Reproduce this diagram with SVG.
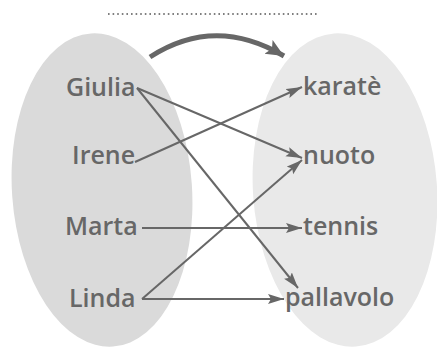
<svg xmlns="http://www.w3.org/2000/svg" width="437" height="351" viewBox="0 0 437 351">
<style>
.lbl{font-family:"Open Sans","Liberation Sans",sans-serif;font-weight:600;font-size:25px;fill:#676767}
.conn{stroke:#676767;stroke-width:2;fill:none}
.curve{stroke:#676767;stroke-width:5;fill:none}
</style>
<defs>
<marker id="ah" markerUnits="userSpaceOnUse" markerWidth="18" markerHeight="12" refX="16" refY="5" orient="auto">
<path d="M0,0 L16,5 L0,10 L3,5 Z" fill="#676767"/>
</marker>
<marker id="ahb" markerUnits="userSpaceOnUse" markerWidth="22" markerHeight="18" refX="18" refY="8" orient="auto">
<path d="M0,0 L18,8 L0,16 L4,8 Z" fill="#676767"/>
</marker>
</defs>
<rect width="437" height="351" fill="#ffffff"/>
<line x1="108" y1="14" x2="318" y2="14" stroke="#555" stroke-width="1.6" stroke-dasharray="1.6 3" />
<g id="set-left">
<ellipse cx="102" cy="190" rx="90" ry="157" transform="rotate(-4 102 190)" fill="#dadada"/>
</g>
<g id="set-right">
<ellipse cx="345" cy="190" rx="92" ry="157" transform="rotate(-4 345 190)" fill="#e9e9e9"/>
</g>
<g id="connectors">
<path class="curve" d="M150,57 Q215,15 284,56" marker-end="url(#ahb)"/>
<line class="conn" x1="137" y1="88" x2="302" y2="158" marker-end="url(#ah)"/>
<line class="conn" x1="137" y1="88" x2="298" y2="288" marker-end="url(#ah)"/>
<line class="conn" x1="135" y1="162" x2="302" y2="87" marker-end="url(#ah)"/>
<line class="conn" x1="142" y1="228" x2="302" y2="228" marker-end="url(#ah)"/>
<line class="conn" x1="142" y1="299" x2="302" y2="160" marker-end="url(#ah)"/>
<line class="conn" x1="142" y1="299" x2="284" y2="299" marker-end="url(#ah)"/>
</g>
<g id="giulia"><text class="lbl" x="66" y="96">Giulia</text></g>
<g id="irene"><text class="lbl" x="72" y="164">Irene</text></g>
<g id="marta"><text class="lbl" x="65" y="235">Marta</text></g>
<g id="linda"><text class="lbl" x="69" y="307">Linda</text></g>
<g id="karate"><text class="lbl" x="303" y="95">karatè</text></g>
<g id="nuoto"><text class="lbl" x="303" y="164">nuoto</text></g>
<g id="tennis"><text class="lbl" x="303" y="235">tennis</text></g>
<g id="pallavolo"><text class="lbl" x="285" y="306">pallavolo</text></g>
</svg>
